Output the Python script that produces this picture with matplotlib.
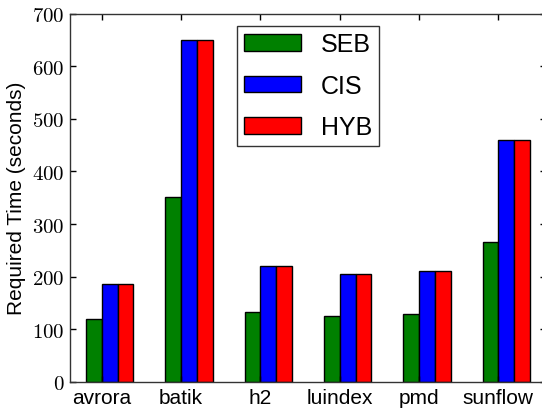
import numpy as np
import matplotlib
matplotlib.use('Agg')
import matplotlib.pyplot as plt
from matplotlib.ticker import FuncFormatter

plt.rcParams['font.family'] = ['Liberation Sans', 'DejaVu Sans']
plt.rcParams['mathtext.fontset'] = 'cm'

benchmarks = ['avrora', 'batik', 'h2', 'luindex', 'pmd', 'sunflow']
seb = [119, 351, 133, 126, 130, 266]
cis = [186, 650, 220, 205, 211, 460]
hyb = [186, 650, 220, 205, 211, 460]

ind = np.arange(len(benchmarks))
width = 0.2

fig = plt.figure(figsize=(5.42, 4.10), dpi=100)
ax = fig.add_axes([70 / 542, 27 / 410, 476 / 542, 368.5 / 410])

ax.bar(ind, seb, width, align='edge', color='g', edgecolor='k', linewidth=1, label='SEB')
ax.bar(ind + width, cis, width, align='edge', color='b', edgecolor='k', linewidth=1, label='CIS')
ax.bar(ind + 2 * width, hyb, width, align='edge', color='r', edgecolor='k', linewidth=1, label='HYB')

ax.set_xlim(-0.2, 5.8)
ax.set_ylim(0, 700)
ax.set_xticks(ind + width)
ax.set_xticklabels(benchmarks, fontsize=15)
ax.set_yticks(np.arange(0, 701, 100))
ax.yaxis.set_major_formatter(FuncFormatter(lambda v, p: r'$%d$' % v))
ax.tick_params(axis='y', labelsize=15)
ax.tick_params(direction='in', length=4, width=1, top=True, right=True, pad=4)
ax.set_ylabel('Required Time (seconds)', fontsize=15)

for s in ax.spines.values():
    s.set_linewidth(1)
    s.set_color('#333333')

leg = ax.legend(loc='upper center', fontsize=18, handlelength=2.3, handleheight=0.65,
                labelspacing=0.7, handletextpad=0.8, borderpad=0.25, borderaxespad=0.5,
                fancybox=False, framealpha=1)
leg.get_frame().set_edgecolor('#333333')
leg.get_frame().set_linewidth(1)

fig.savefig('out.png', dpi=100, facecolor='white')
